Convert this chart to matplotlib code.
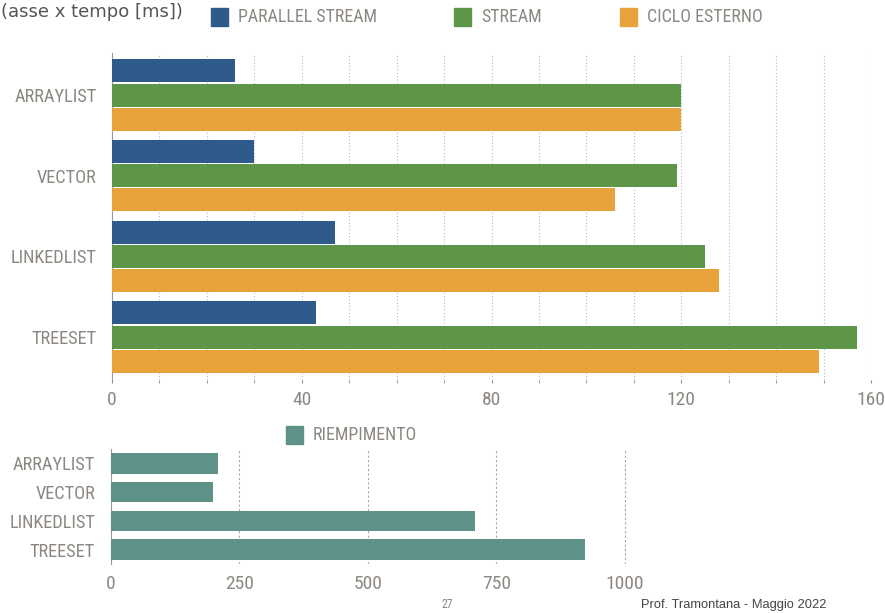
import numpy as np
from matplotlib import pyplot as plt
from matplotlib import font_manager
from matplotlib.patches import Rectangle

# data
categories = ['ARRAYLIST', 'VECTOR', 'LINKEDLIST', 'TREESET']
parallel_stream = [26, 30, 47, 43]
stream = [120, 119, 125, 157]
ciclo_esterno = [120, 106, 128, 149]
riempimento = [208, 198, 708, 922]

top_ticks = [0, 40, 80, 120, 160]
bottom_ticks = [0, 250, 500, 750, 1000]

c_par = '#2E5A8C'
c_str = '#5E9649'
c_cic = '#E8A23C'
c_rie = '#5E9188'
txt = '#8C8781'

# look for a condensed font, the original uses a narrow geometric face
fonts = font_manager.fontManager.ttflist
names = set(f.name for f in fonts)
narrow = None
stretch = 'normal'
for cand in ['Liberation Sans Narrow', 'Roboto Condensed', 'Open Sans Condensed', 'DejaVu Sans Condensed']:
    if cand in names:
        narrow = cand
        break
if narrow is None:
    for f in fonts:
        if f.name == 'DejaVu Sans' and f.stretch == 'condensed':
            narrow = 'DejaVu Sans'
            stretch = 'condensed'
            break
if narrow is None:
    narrow = 'Roboto'

plt.rcParams['font.family'] = [narrow, 'DejaVu Sans']
plt.rcParams['font.stretch'] = stretch

fig = plt.figure(figsize=(8.85, 6.13), dpi=100)

## Top chart
ax = fig.add_axes([0.1266, 0.3801, 0.8576, 0.5334])
y = np.arange(len(categories))
h = 0.285
ax.barh(y - 0.3, parallel_stream, height=h, color=c_par, zorder=3)
ax.barh(y, stream, height=h, color=c_str, zorder=3)
ax.barh(y + 0.3, ciclo_esterno, height=h, color=c_cic, zorder=3)
ax.set_ylim(3.53, -0.52)
ax.set_xlim(0, 160)
ax.set_yticks(y)
ax.set_yticklabels(categories)
ax.set_xticks(top_ticks)
ax.set_xticks(np.arange(0, 161, 10), minor=True)
ax.grid(axis='x', which='both', linestyle=(0, (1, 2)), color='#b8b8c0', linewidth=0.8, zorder=0)
for s in ['top', 'right', 'bottom']:
    ax.spines[s].set_visible(False)
ax.spines['left'].set_color('#9a9a9a')
ax.tick_params(axis='y', length=0, pad=11, labelsize=13.2, labelcolor=txt)
ax.tick_params(axis='x', which='major', length=2, color='#8888aa', pad=6, labelsize=14, labelcolor=txt)
ax.tick_params(axis='x', which='minor', length=2, color='#8888aa')

## Bottom chart
ax2 = fig.add_axes([0.1254, 0.0799, 0.5830, 0.1876])
ax2.barh(y, riempimento, height=0.72, color=c_rie, zorder=3)
ax2.set_ylim(3.5, -0.5)
ax2.set_xlim(0, 1004)
ax2.set_yticks(y)
ax2.set_yticklabels(categories)
ax2.set_xticks(bottom_ticks)
ax2.grid(axis='x', linestyle=(0, (2, 2)), color='#a8a8a8', linewidth=0.8, zorder=0)
for s in ['top', 'right', 'bottom']:
    ax2.spines[s].set_visible(False)
ax2.spines['left'].set_color('#9a9a9a')
ax2.tick_params(axis='y', length=0, pad=11.5, labelsize=13.2, labelcolor=txt)
ax2.tick_params(axis='x', length=0, pad=8, labelsize=14, labelcolor=txt)

## Legends / texts
def legend_item(x, yc, color, label):
    fig.patches.append(Rectangle((x / 885, 1 - (yc + 9) / 613), 17 / 885, 18 / 613,
                                 transform=fig.transFigure, color=color, figure=fig))
    fig.text((x + 27) / 885, 1 - yc / 613, label, color=txt, fontsize=12.9, va='center', ha='left')

legend_item(211, 17, c_par, 'PARALLEL STREAM')
legend_item(454, 17, c_str, 'STREAM')
legend_item(620, 17, c_cic, 'CICLO ESTERNO')
legend_item(286, 435, c_rie, 'RIEMPIMENTO')

fig.text(1 / 885, 1 - 17 / 613, '(asse x tempo [ms])', color='#555555', fontsize=13, va='baseline', ha='left',
         family=['DejaVu Sans'], stretch='normal')
fig.text(447 / 885, 1 - 605 / 613, '27', color=txt, fontsize=8.5, va='center', ha='center')
fig.text(641 / 885, 1 - 605 / 613, 'Prof. Tramontana - Maggio 2022', color='#444444', fontsize=9.3,
         va='center', ha='left', family=['Liberation Sans'], stretch='normal')

plt.savefig('out.png', dpi=100)
